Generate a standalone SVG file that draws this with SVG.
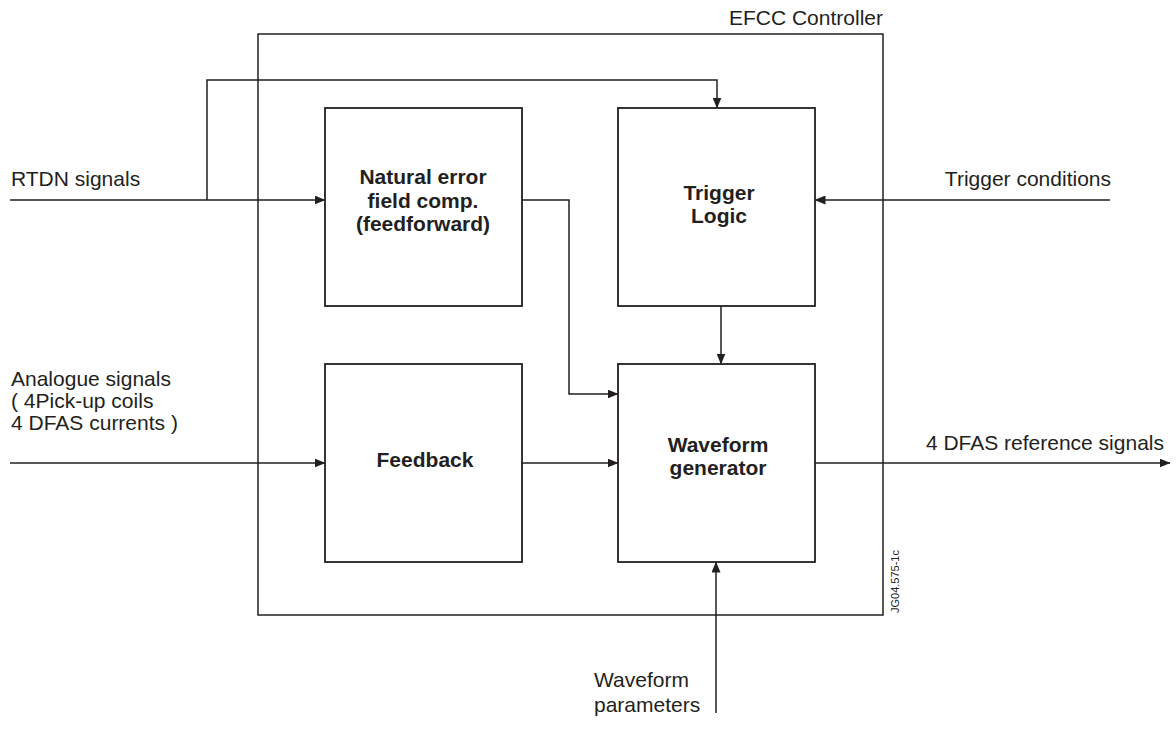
<svg xmlns="http://www.w3.org/2000/svg" width="1176" height="731" viewBox="0 0 1176 731">
<style>
.ln{fill:none;stroke:#231f20;stroke-width:1.5}
.box{fill:#fff;stroke:#231f20;stroke-width:1.8}
.t{font-family:"Liberation Sans",Arial,sans-serif;font-size:21px;fill:#231f20}
.b{font-family:"Liberation Sans",Arial,sans-serif;font-size:21px;font-weight:bold;fill:#231f20;text-anchor:middle}
.s{font-family:"Liberation Sans",Arial,sans-serif;font-size:11px;fill:#231f20}
</style>
<defs>
<marker id="ah" markerWidth="11" markerHeight="9" refX="10.5" refY="4.5" orient="auto" markerUnits="userSpaceOnUse">
<path d="M0,0 L11,4.5 L0,9 z" fill="#231f20"/>
</marker>
</defs>
<rect width="1176" height="731" fill="#fff"/>
<g id="controller">
<rect x="258" y="34" width="625" height="581" class="ln" stroke-width="1.6"/>
<text class="t" x="883" y="25" text-anchor="end">EFCC Controller</text>
</g>
<g id="connectors">
<polyline class="ln" points="10,200 325,200" marker-end="url(#ah)"/>
<polyline class="ln" points="207,200 207,80 717,80 717,108" marker-end="url(#ah)"/>
<polyline class="ln" points="522,200 569,200 569,394 618,394" marker-end="url(#ah)"/>
<polyline class="ln" points="1110,200 815,200" marker-end="url(#ah)"/>
<polyline class="ln" points="721,306 721,364" marker-end="url(#ah)"/>
<polyline class="ln" points="10,463 325,463" marker-end="url(#ah)"/>
<polyline class="ln" points="522,463 618,463" marker-end="url(#ah)"/>
<polyline class="ln" points="815,463 1170,463" marker-end="url(#ah)"/>
<polyline class="ln" points="716,713 716,562" marker-end="url(#ah)"/>
</g>
<g id="natural">
<rect class="box" x="325" y="108" width="197" height="198"/>
<text class="b" x="423" y="184">Natural error</text>
<text class="b" x="423" y="208">field comp.</text>
<text class="b" x="423" y="231">(feedforward)</text>
</g>
<g id="trigger">
<rect class="box" x="618" y="108" width="197" height="198"/>
<text class="b" x="719" y="200">Trigger</text>
<text class="b" x="719" y="223">Logic</text>
</g>
<g id="feedback">
<rect class="box" x="325" y="364" width="197" height="198"/>
<text class="b" x="425" y="467">Feedback</text>
</g>
<g id="waveform">
<rect class="box" x="618" y="364" width="197" height="198"/>
<text class="b" x="718" y="452">Waveform</text>
<text class="b" x="718" y="475">generator</text>
</g>
<g id="labels">
<text class="t" x="11" y="186">RTDN signals</text>
<text class="t" x="1111" y="186" text-anchor="end">Trigger conditions</text>
<text class="t" x="11" y="386">Analogue signals</text>
<text class="t" x="11" y="408">( 4Pick-up coils</text>
<text class="t" x="11" y="430">4 DFAS currents )</text>
<text class="t" x="1164" y="450" text-anchor="end">4 DFAS reference signals</text>
<text class="t" x="594" y="687">Waveform</text>
<text class="t" x="594" y="712">parameters</text>
<text class="s" transform="translate(899,613) rotate(-90)">JG04.575-1c</text>
</g>
</svg>
